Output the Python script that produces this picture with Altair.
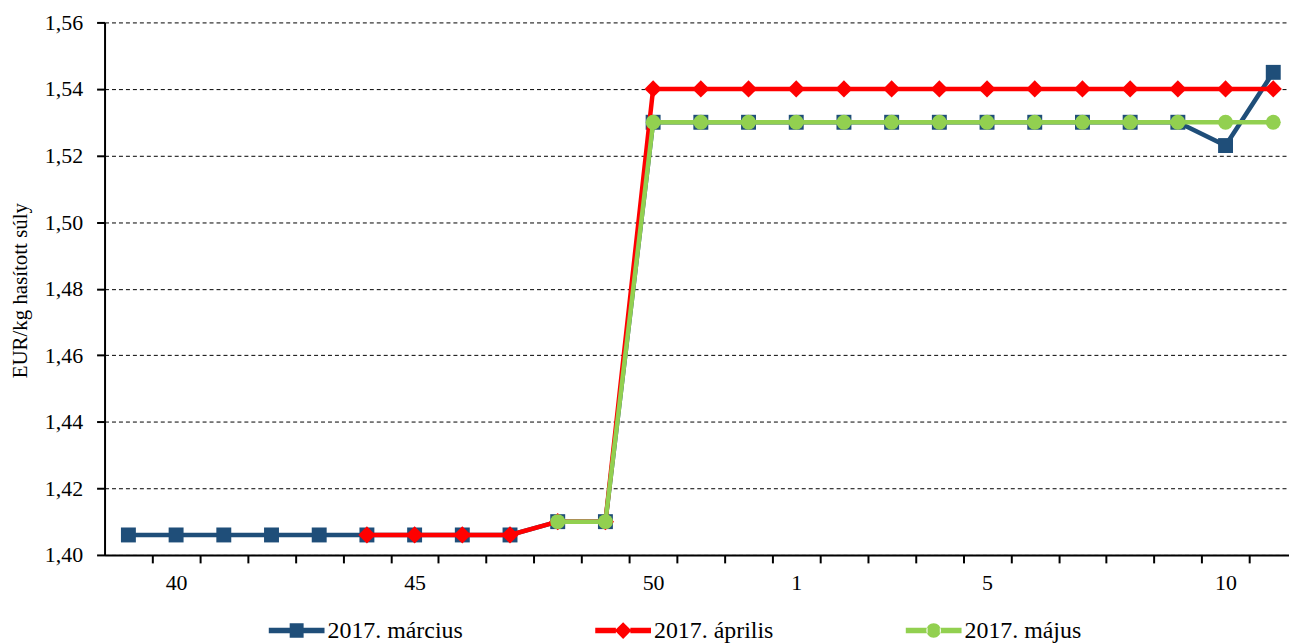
import altair as alt
import pandas as pd

weeks = [39, 40, 41, 42, 43, 44, 45, 46, 47, 48, 49, 50, 51, 52,
         1, 2, 3, 4, 5, 6, 7, 8, 9, 10, 11]
march = [1.406, 1.406, 1.406, 1.406, 1.406, 1.406, 1.406, 1.406, 1.406, 1.41, 1.41,
         1.53, 1.53, 1.53, 1.53, 1.53, 1.53, 1.53, 1.53, 1.53, 1.53, 1.53, 1.53,
         1.523, 1.545]
april = [None, None, None, None, None, 1.406, 1.406, 1.406, 1.406, 1.41, 1.41,
         1.54, 1.54, 1.54, 1.54, 1.54, 1.54, 1.54, 1.54, 1.54, 1.54, 1.54, 1.54,
         1.54, 1.54]
may = [None, None, None, None, None, None, None, None, None, 1.41, 1.41,
       1.53, 1.53, 1.53, 1.53, 1.53, 1.53, 1.53, 1.53, 1.53, 1.53, 1.53, 1.53,
       1.53, 1.53]
series_names = ["2017. március", "2017. április", "2017. május"]
colors = ["#1F4E79", "#FF0000", "#92D050"]
shapes = ["square", "diamond", "circle"]
shape_sizes = [225, 300, 225]
label_weeks = [40, 45, 50, 1, 5, 10]
y_ticks = [1.40, 1.42, 1.44, 1.46, 1.48, 1.50, 1.52, 1.54, 1.56]

FONT = "Liberation Serif"

rows = []
for name, vals in zip(series_names, [march, april, may]):
    for i, (w, v) in enumerate(zip(weeks, vals)):
        if v is not None:
            rows.append({"idx": i, "week": w, "series": name, "value": v})
df = pd.DataFrame(rows)

label_idx = [i for i, w in enumerate(weeks) if w in label_weeks]
expr = "''"
for i in reversed(label_idx):
    expr = f"datum.value == {i} ? '{weeks[i]}' : ({expr})"

xscale = alt.Scale(domain=[-0.5, 24.33], nice=False, zero=False)
yscale = alt.Scale(domain=[1.40, 1.56], nice=False, zero=False)

x_plain = alt.X("idx:Q", scale=xscale, axis=None)
x_ticks = alt.X("idx:Q", scale=xscale, axis=alt.Axis(
    orient="bottom",
    values=[i + 0.5 for i in range(len(weeks) - 1)], labels=False, grid=False,
    domain=True, domainColor="black", domainWidth=2,
    ticks=True, tickColor="black", tickWidth=2, tickSize=8, title=None))
x_labels = alt.X("idx:Q", scale=xscale, axis=alt.Axis(
    orient="bottom",
    values=label_idx, labelExpr=expr, grid=False, domain=False, ticks=False,
    labelFont=FONT, labelFontSize=22, labelColor="black", labelPadding=18,
    title=None))

y_enc = alt.Y("value:Q", scale=yscale, axis=alt.Axis(
    values=y_ticks, labelExpr="replace(format(datum.value, '.2f'), '.', ',')",
    grid=True, gridColor="black", gridDash=[4, 3], gridWidth=1,
    domain=True, domainColor="black", domainWidth=2,
    ticks=True, tickColor="black", tickWidth=2, tickSize=8,
    labelFont=FONT, labelFontSize=22, labelColor="black", labelPadding=14,
    title="EUR/kg hasított súly", titleFont=FONT, titleFontSize=21,
    titleFontWeight="normal", titleColor="black",
    titleX=-84, titleY=269, titleAngle=270, titleAlign="center",
    titleBaseline="middle"))

layers = []
first = True
for name, c, s, sz in zip(series_names, colors, shapes, shape_sizes):
    base = alt.Chart(df).transform_filter(alt.datum.series == name)
    line = base.mark_line(color=c, strokeWidth=4.5).encode(
        x=x_ticks if first else x_plain, y=y_enc, order="idx:Q")
    pts = base.mark_point(filled=True, shape=s, size=sz, color=c, opacity=1).encode(
        x=x_labels if first else x_plain, y=y_enc)
    first = False
    layers += [line, pts]

legend_paths = [
    "M-1,-0.1H-0.24V0.1H-1Z M0.24,-0.1H1V0.1H0.24Z M-0.25,-0.26H0.25V0.26H-0.25Z",
    "M-1,-0.1H-0.26V0.1H-1Z M0.26,-0.1H1V0.1H0.26Z M0,-0.3L0.3,0L0,0.3L-0.3,0Z",
    "M-1,-0.1H-0.22V0.1H-1Z M0.22,-0.1H1V0.1H0.22Z M-0.26,0A0.26,0.26 0 1,0 0.26,0A0.26,0.26 0 1,0 -0.26,0Z",
]
leg = dict(orient="none", legendX=165, legendY=583, direction="horizontal",
           title=None, labelFont=FONT, labelFontSize=24, labelColor="black",
           symbolSize=3136, symbolStrokeWidth=0, symbolOpacity=1,
           columnPadding=133, labelOffset=3, padding=0)
legend_layer = alt.Chart(df).transform_filter("datum.idx < 0").mark_point(
    filled=True, opacity=1).encode(
    x=x_plain, y=y_enc,
    color=alt.Color("series:N", scale=alt.Scale(domain=series_names, range=colors),
                    legend=alt.Legend(**leg)),
    shape=alt.Shape("series:N", scale=alt.Scale(domain=series_names, range=legend_paths),
                    legend=alt.Legend(**leg)),
)
layers.append(legend_layer)

chart = alt.layer(*layers).resolve_axis(x="independent").properties(
    width=1190, height=535,
    autosize=alt.AutoSizeParams(type="none"),
    padding={"left": 97, "top": 13, "right": 0, "bottom": 88},
    background="white",
).configure_view(stroke=None)

chart.save("out.html", embed_options={"renderer": "svg", "actions": False})
